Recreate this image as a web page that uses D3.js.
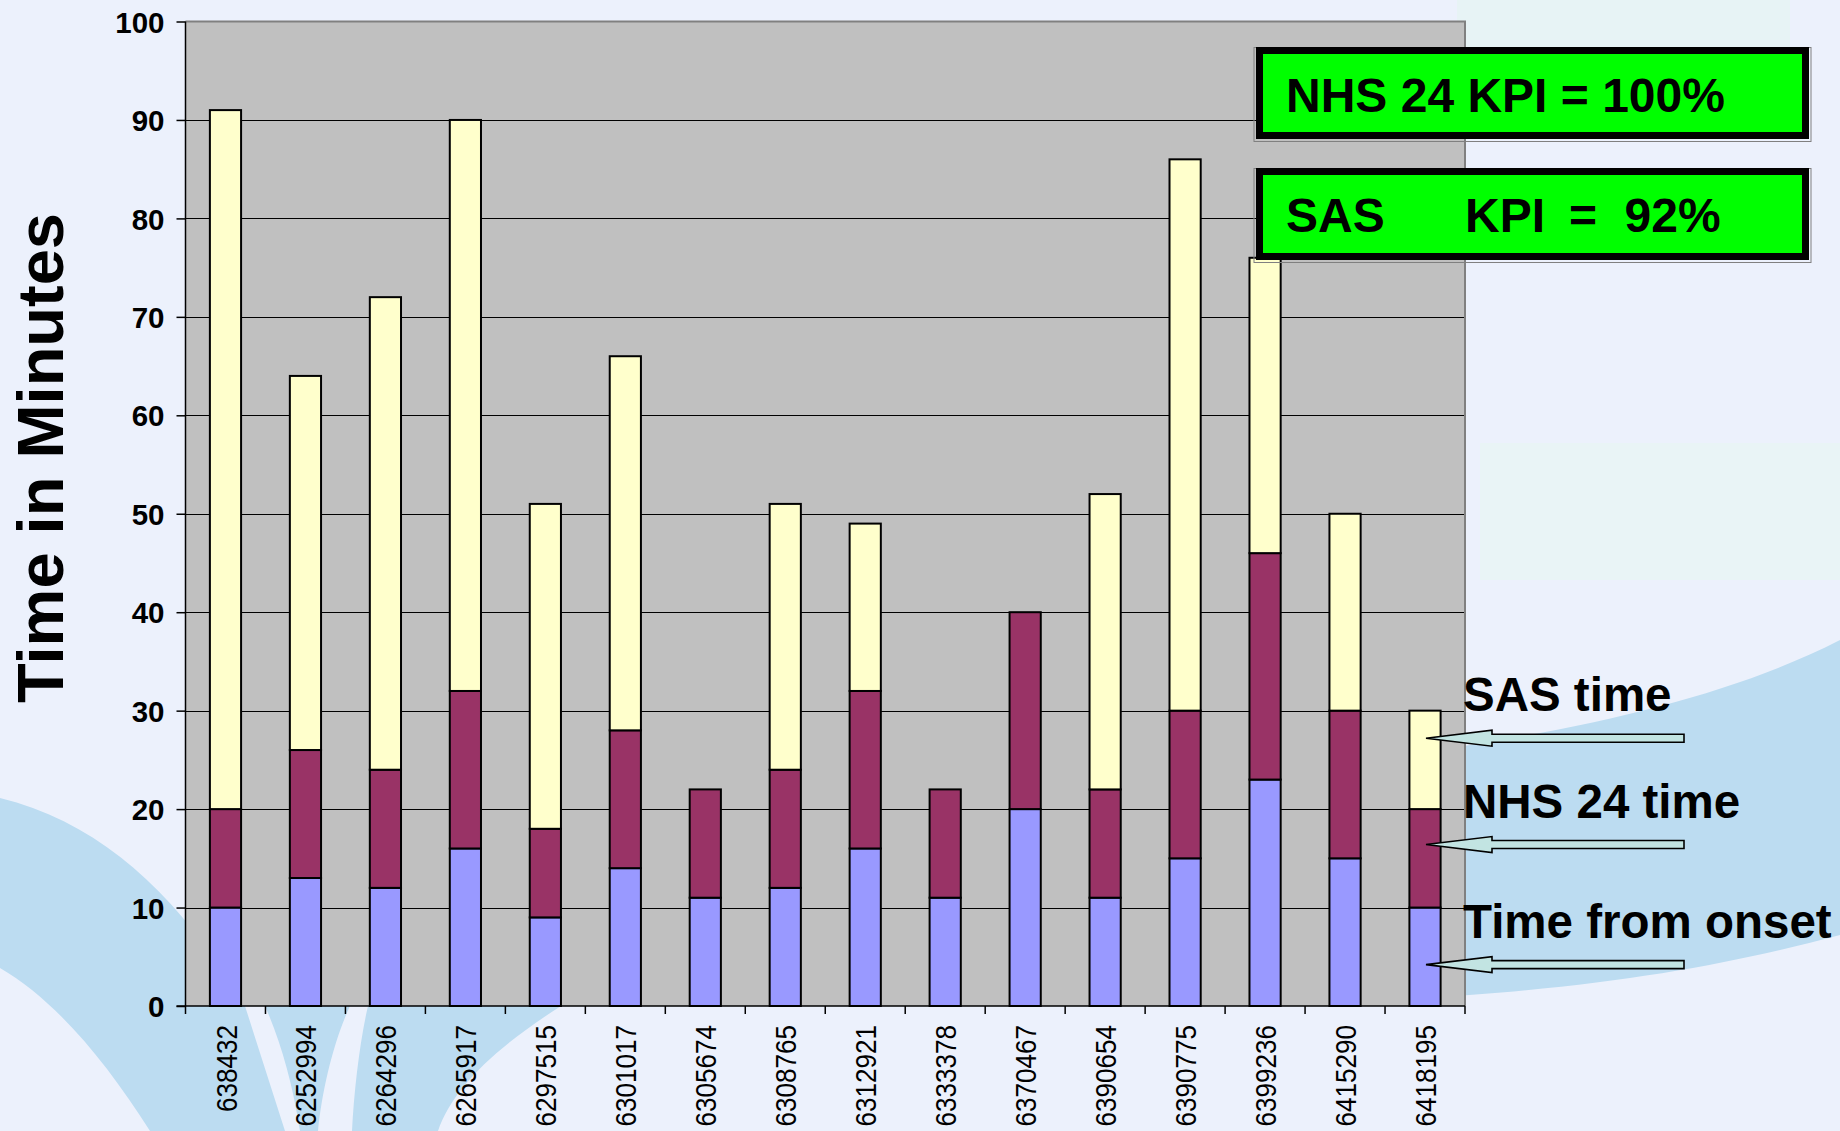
<!DOCTYPE html>
<html>
<head>
<meta charset="utf-8">
<script src="https://cdn.jsdelivr.net/npm/d3@7"></script>
<style>
  html, body { margin: 0; padding: 0; background: #ECF1FC; }
  svg { display: block; }
</style>
</head>
<body>
<svg id="chart" width="1840" height="1131"></svg>
<script>
// ---- data ----
const categories = ["638432","6252994","6264296","6265917","6297515","6301017","6305674","6308765",
                    "6312921","6333378","6370467","6390654","6390775","6399236","6415290","6418195"];
const timeFromOnset = [10,13,12,16,9,14,11,12,16,11,20,11,15,23,15,10];
const nhs24Time     = [10,13,12,16,9,14,11,12,16,11,20,11,15,23,15,10];
const sasTime       = [71,38,48,58,33,38,0,27,17,0,0,30,56,30,20,10];
const seriesKeys    = ["onset","nhs","sas"];
const seriesColors  = ["#9999FF","#993366","#FFFFCC"];
const yTicks        = [0,10,20,30,40,50,60,70,80,90,100];
const kpiLines      = [["NHS 24 KPI = 100%"], ["SAS","KPI","=","92%"]];
const legendLabels  = ["SAS time","NHS 24 time","Time from onset"];
const legendArrowValues = [27.2, 16.4, 4.2];

const svg = d3.select("#chart");
const W = 1840, H = 1131;
const m = {left:185.5, right:1465, top:21.5, bottom:1006};

// ---- background decoration ----
svg.append("rect").attr("width",W).attr("height",H).attr("fill","#ECF1FC");
svg.append("rect").attr("x",1457).attr("y",0).attr("width",333).attr("height",60).attr("fill","#E7F3F5");
svg.append("rect").attr("x",1480).attr("y",443).attr("width",360).attr("height",137).attr("fill","#E9F4F6");
const blue = "#BCDCF1";
svg.append("path").attr("fill",blue)
  .attr("d","M0,798 C90,820 160,880 215,960 L245,1006 L285,1131 L150,1131 C105,1060 55,1000 0,968 Z");
svg.append("path").attr("fill",blue)
  .attr("d","M265,1006 L350,1006 C334,1040 322,1090 318,1131 L300,1131 C292,1080 280,1040 265,1006 Z");
svg.append("path").attr("fill",blue)
  .attr("d","M368,1006 L561,1006 C492,1050 452,1090 438,1131 L352,1131 C354,1090 360,1040 368,1006 Z");
svg.append("path").attr("fill",blue)
  .attr("d","M1300,768 C1500,745 1700,712 1840,640 L1840,935 C1700,972 1560,995 1300,1004 Z");

// ---- scales ----
const x = d3.scaleBand().domain(categories).range([m.left, m.right]).paddingInner(0.61).paddingOuter(0.305);
const y = d3.scaleLinear().domain([0,100]).range([m.bottom, m.top]);

// plot area
svg.append("rect").attr("x",m.left).attr("y",m.top).attr("width",m.right-m.left).attr("height",m.bottom-m.top)
  .attr("fill","#C0C0C0");

// gridlines
svg.append("g").selectAll("line").data(yTicks.filter(v => v>0 && v<100)).join("line")
  .attr("x1",m.left).attr("x2",m.right).attr("y1",d=>Math.round(y(d))+0.5).attr("y2",d=>Math.round(y(d))+0.5)
  .attr("stroke","#000").attr("stroke-width",1.2);
// top & right borders (gray)
svg.append("path").attr("d",`M${m.left},${y(100)} H${m.right} V${m.bottom}`)
  .attr("fill","none").attr("stroke","#808080").attr("stroke-width",2);

// ---- stacked bars ----
const rows = categories.map((c,i)=>({cat:c, onset:timeFromOnset[i], nhs:nhs24Time[i], sas:sasTime[i]}));
const stacked = d3.stack().keys(seriesKeys)(rows);
const bw = x.bandwidth();
stacked.forEach((layer, li) => {
  svg.append("g").selectAll("rect").data(layer.filter(d => d[1]-d[0] > 0)).join("rect")
    .attr("x", d => x(d.data.cat))
    .attr("y", d => y(d[1]))
    .attr("width", bw)
    .attr("height", d => y(d[0]) - y(d[1]))
    .attr("fill", seriesColors[li])
    .attr("stroke","#000").attr("stroke-width",2);
});

// ---- axes ----
const yAxis = d3.axisLeft(y).tickValues(yTicks).tickSize(9).tickPadding(12).tickFormat(d3.format("d"));
const gy = svg.append("g").attr("transform",`translate(${m.left},0)`).call(yAxis);
gy.select(".domain").attr("stroke","#000").attr("stroke-width",1.5).attr("d",`M0,${m.top}V${m.bottom}`);
gy.selectAll(".tick line").attr("stroke","#000").attr("stroke-width",1.5);
gy.selectAll(".tick text").attr("font-family","'Liberation Sans', Arial, sans-serif")
  .attr("font-weight","bold").attr("font-size",29.5).attr("fill","#000").attr("dy","0.36em");

// x axis line
svg.append("line").attr("x1",m.left-9).attr("x2",m.right).attr("y1",m.bottom).attr("y2",m.bottom)
  .attr("stroke","#000").attr("stroke-width",1.5);
// boundary ticks
const step = x.step();
svg.append("g").selectAll("line").data(d3.range(categories.length+1)).join("line")
  .attr("x1", i => m.left + i*step).attr("x2", i => m.left + i*step)
  .attr("y1", m.bottom).attr("y2", m.bottom+8).attr("stroke","#000").attr("stroke-width",1.5);
// category labels
svg.append("g").selectAll("text").data(categories).join("text")
  .attr("transform", d => `translate(${x(d)+bw/2},${m.bottom+19}) rotate(-90) scale(0.9,1)`)
  .attr("text-anchor","end").attr("dy","0.38em")
  .attr("font-family","'Liberation Sans', Arial, sans-serif").attr("font-size",29).attr("fill","#000")
  .text(d => d);

// y title
svg.append("text").attr("transform","translate(63,458) rotate(-90)").attr("text-anchor","middle")
  .attr("font-family","'Liberation Sans', Arial, sans-serif").attr("font-weight","bold").attr("font-size",65)
  .attr("fill","#000").text("Time in Minutes");

// ---- KPI boxes ----
const boxes = [{y:50.5, base:112, xs:[1286]}, {y:171.5, base:232, xs:[1286,1465,1569,1624.5]}];
boxes.forEach((b,i) => {
  svg.append("rect").attr("x",1254).attr("y",b.y-3).attr("width",557).attr("height",94)
    .attr("fill","none").attr("stroke","#808080").attr("stroke-width",1);
  svg.append("rect").attr("x",1259.5).attr("y",b.y).attr("width",546).attr("height",85)
    .attr("fill","#00FF00").attr("stroke","#000").attr("stroke-width",7);
  const t = svg.append("text").attr("y",b.base)
    .attr("font-family","'Liberation Sans', Arial, sans-serif").attr("font-weight","bold").attr("font-size",48)
    .attr("fill","#000");
  kpiLines[i].forEach((s,j) => t.append("tspan").attr("x",b.xs[j]).text(s));
});

// ---- legend arrows & labels ----
legendLabels.forEach((lab,i) => {
  const yc = y(legendArrowValues[i]);
  const tip = 1426, hb = 1492, end = 1684;
  svg.append("path")
    .attr("d",`M${tip},${yc} L${hb},${yc-8} L${hb},${yc-4} L${end},${yc-4} L${end},${yc+4} L${hb},${yc+4} L${hb},${yc+8} Z`)
    .attr("fill","#C2E4E2").attr("stroke","#000").attr("stroke-width",1.6).attr("stroke-linejoin","miter");
  svg.append("text").attr("x",1463).attr("y",yc-27)
    .attr("font-family","'Liberation Sans', Arial, sans-serif").attr("font-weight","bold").attr("font-size",47.5)
    .attr("fill","#000").text(lab);
});
</script>
</body>
</html>
